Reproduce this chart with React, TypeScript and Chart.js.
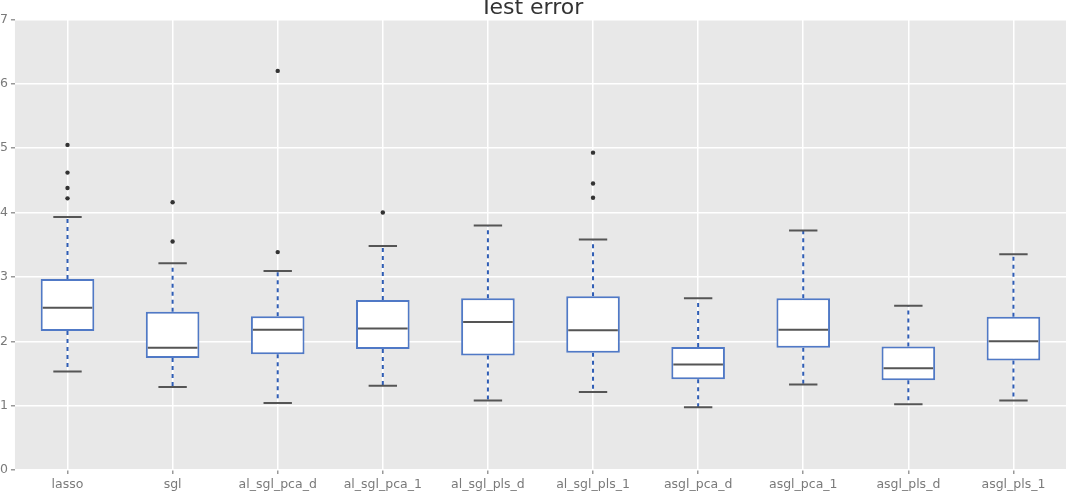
import React, { useEffect, useRef } from "react";
import { Chart, registerables } from "chart.js";

Chart.register(...registerables);

const categories = [
  "lasso", "sgl", "al_sgl_pca_d", "al_sgl_pca_1", "al_sgl_pls_d",
  "al_sgl_pls_1", "asgl_pca_d", "asgl_pca_1", "asgl_pls_d", "asgl_pls_1",
];
const whiskerLow = [1.53, 1.29, 1.04, 1.31, 1.08, 1.21, 0.975, 1.33, 1.02, 1.08];
const q1 = [2.16, 1.74, 1.8, 1.88, 1.78, 1.82, 1.41, 1.9, 1.395, 1.7];
const median = [2.52, 1.9, 2.18, 2.2, 2.3, 2.17, 1.64, 2.18, 1.58, 2.0];
const q3 = [2.966, 2.46, 2.39, 2.64, 2.67, 2.7, 1.91, 2.67, 1.92, 2.38];
const whiskerHigh = [3.93, 3.21, 3.09, 3.48, 3.8, 3.58, 2.67, 3.72, 2.55, 3.35];
const outlierCategory = [0, 0, 0, 0, 1, 1, 2, 2, 3, 5, 5, 5];
const outlierValue = [5.05, 4.62, 4.38, 4.22, 4.16, 3.55, 6.2, 3.385, 4.0, 4.93, 4.45, 4.23];
const yTicks = [0, 1, 2, 3, 4, 5, 6, 7];

const FONT = "'DejaVu Sans', sans-serif";
const BOX_BLUE = "#5079C6";
const WHISKER_BLUE = "#2F5DB5";
const DARK = "#555555";

const bgPlugin = {
  id: "plotBg",
  beforeDraw(chart: any) {
    const { ctx, chartArea } = chart;
    ctx.save();
    ctx.fillStyle = "#E8E8E8";
    ctx.fillRect(chartArea.left, chartArea.top, chartArea.right - chartArea.left, chartArea.bottom - chartArea.top);
    ctx.restore();
  },
};

const boxPlugin = {
  id: "boxParts",
  beforeDatasetsDraw(chart: any) {
    const { ctx } = chart;
    const x = chart.scales.x;
    const y = chart.scales.y;
    const catW = x.getPixelForValue(1) - x.getPixelForValue(0);
    const capHalf = catW * 0.135;
    ctx.save();
    categories.forEach((_, i) => {
      const cx = x.getPixelForValue(i);
      ctx.strokeStyle = WHISKER_BLUE;
      ctx.lineWidth = 2;
      ctx.setLineDash([4, 4]);
      ctx.beginPath();
      ctx.moveTo(cx, y.getPixelForValue(q3[i]));
      ctx.lineTo(cx, y.getPixelForValue(whiskerHigh[i]));
      ctx.moveTo(cx, y.getPixelForValue(q1[i]));
      ctx.lineTo(cx, y.getPixelForValue(whiskerLow[i]));
      ctx.stroke();
      ctx.setLineDash([]);
      ctx.strokeStyle = DARK;
      ctx.lineWidth = 2;
      ctx.beginPath();
      const yh = y.getPixelForValue(whiskerHigh[i]);
      const yl = y.getPixelForValue(whiskerLow[i]);
      ctx.moveTo(cx - capHalf, yh);
      ctx.lineTo(cx + capHalf, yh);
      ctx.moveTo(cx - capHalf, yl);
      ctx.lineTo(cx + capHalf, yl);
      ctx.stroke();
    });
    ctx.restore();
  },
  afterDatasetsDraw(chart: any) {
    const { ctx } = chart;
    const y = chart.scales.y;
    const meta = chart.getDatasetMeta(0);
    ctx.save();
    ctx.strokeStyle = DARK;
    ctx.lineWidth = 2;
    meta.data.forEach((bar: any, i: number) => {
      const half = bar.width / 2 - 2;
      const ym = y.getPixelForValue(median[i]);
      ctx.beginPath();
      ctx.moveTo(bar.x - half, ym);
      ctx.lineTo(bar.x + half, ym);
      ctx.stroke();
    });
    ctx.restore();
  },
};

export default function App() {
  const ref = useRef<HTMLCanvasElement>(null);
  useEffect(() => {
    if (!ref.current) return;
    const chart = new Chart(ref.current, {
      type: "bar",
      data: {
        labels: categories,
        datasets: [
          {
            type: "bar",
            data: categories.map((_, i) => [q1[i], q3[i]]) as any,
            backgroundColor: "#FFFFFF",
            borderColor: BOX_BLUE,
            borderWidth: 2,
            borderSkipped: false,
            barPercentage: 0.51,
            categoryPercentage: 1,
            order: 2,
          } as any,
          {
            type: "scatter",
            data: outlierValue.map((v, i) => ({ x: categories[outlierCategory[i]], y: v })) as any,
            pointRadius: 2.2,
            pointBackgroundColor: "#333333",
            pointBorderWidth: 0,
            order: 1,
          } as any,
        ],
      },
      options: {
        animation: false,
        responsive: false,
        layout: { padding: { left: 0, right: 5, top: 0, bottom: 1 } },
        plugins: {
          legend: { display: false },
          tooltip: { enabled: false },
          title: {
            display: true,
            text: "Test error",
            color: "#333333",
            font: { family: FONT, size: 22, weight: "normal" },
            padding: { top: 2, bottom: -2 },
          },
        },
        scales: {
          x: {
            type: "category",
            border: { display: false },
            grid: { color: "#FFFFFF", lineWidth: 1.5, tickColor: "#999999", tickLength: 4, offset: false },
            ticks: {
              color: "#7A7A7A",
              font: { family: FONT, size: 12.5 },
              padding: 3,
              maxRotation: 0,
              autoSkip: false,
            },
          },
          y: {
            min: 0,
            max: 7,
            afterBuildTicks(axis: any) {
              axis.ticks = yTicks.map((v) => ({ value: v }));
            },
            border: { display: false },
            grid: { color: "#FFFFFF", lineWidth: 1.5, tickColor: "#999999", tickLength: 4 },
            ticks: {
              color: "#7A7A7A",
              font: { family: FONT, size: 12.5 },
              padding: 3,
            },
          },
        },
      } as any,
      plugins: [bgPlugin, boxPlugin],
    });
    return () => chart.destroy();
  }, []);
  return (
    <div style={{ position: "fixed", left: -3, top: -7, width: 1074, height: 503 }}>
      <canvas ref={ref} width={1074} height={503} style={{ display: "block" }} />
    </div>
  );
}
